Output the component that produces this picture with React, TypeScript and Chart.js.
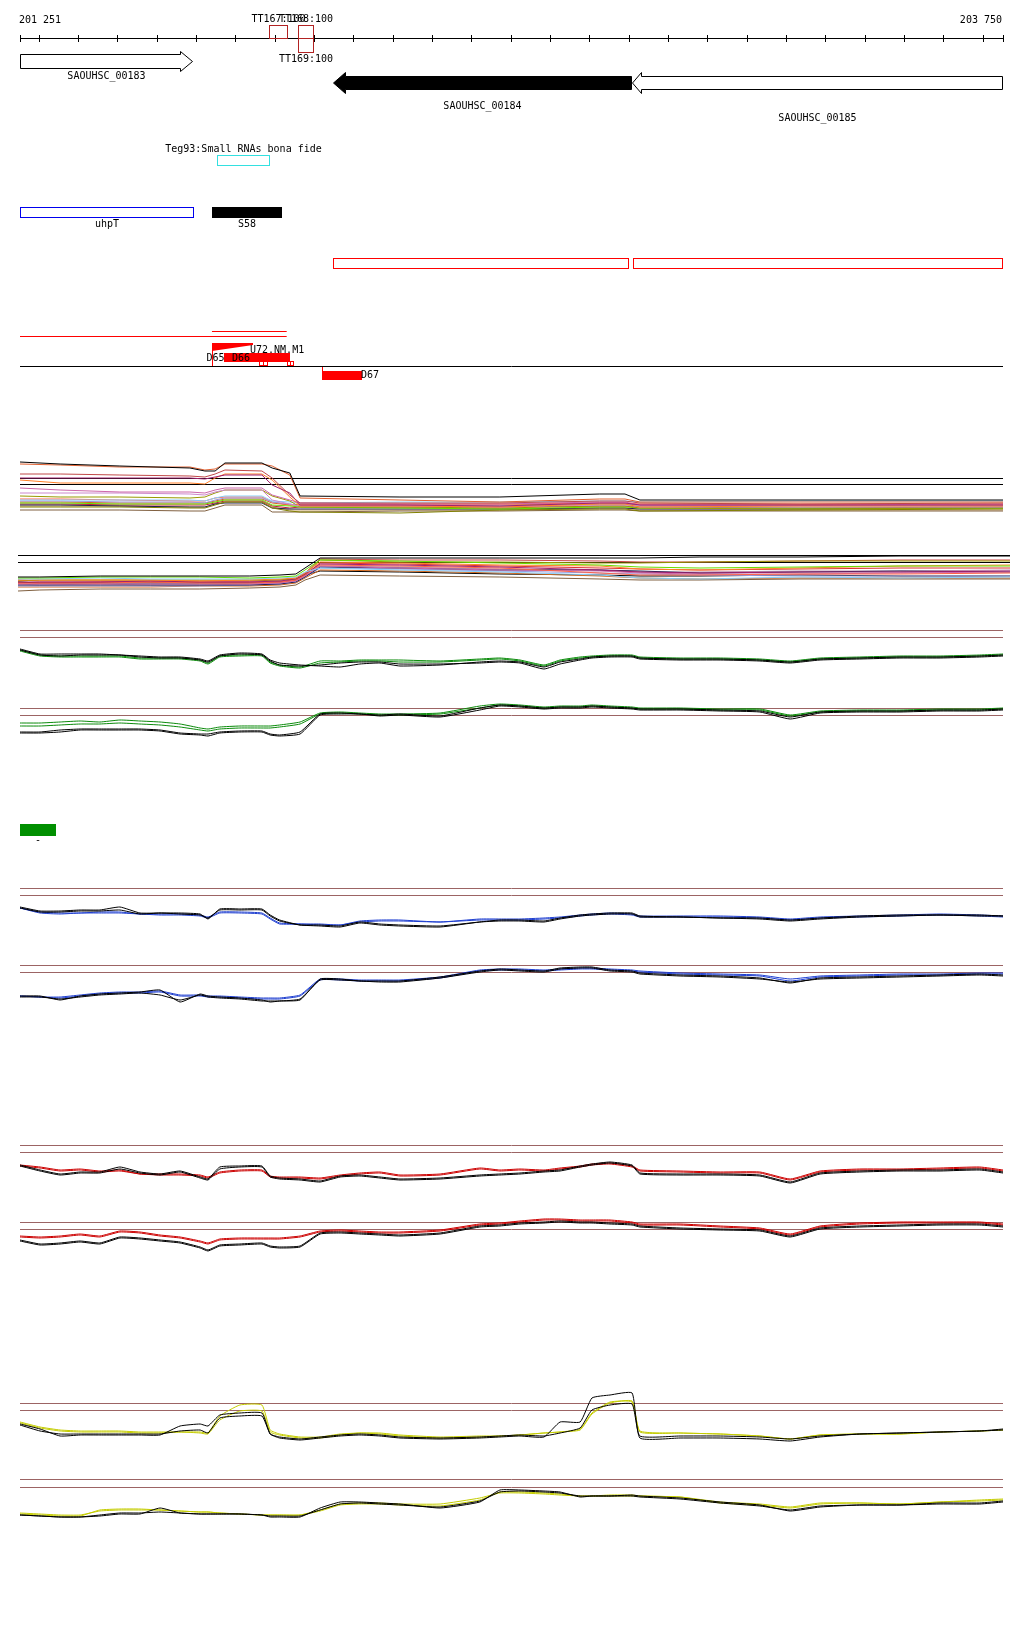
import React, { useEffect, useRef } from 'react';
import { Chart, registerables } from 'chart.js';
Chart.register(...registerables);

// ---------- genomic window ----------
const START = 201251;
const END = 203750;
const RULER_LABELS = ['201 251', '203 750'];
const RULER_TICKS = [201251, 201300, 201400, 201500, 201600, 201700, 201800, 201900, 202000, 202100, 202200, 202300, 202400,
  202500, 202600, 202700, 202800, 202900, 203000, 203100, 203200, 203300, 203400, 203500, 203600, 203700, 203750];

// ---------- annotation features ----------
const GENE_NAMES = ['SAOUHSC_00183', 'SAOUHSC_00184', 'SAOUHSC_00185'];
const GENE_START = [201251, 202047, 202807];
const GENE_END = [201690, 202807, 203750];
const GENE_STRAND = [1, -1, -1];
const GENE_FILLED = [false, true, false];

const TERM_NAMES = ['TT167:100', 'TT168:100', 'TT169:100'];
const TERM_START = [201885, 201959, 201959];
const TERM_END = [201931, 201997, 201997];

const SRNA_NAME = 'Teg93:Small RNAs bona fide';
const SRNA_START = 201751;
const SRNA_END = 201885;

const RNA_NAMES = ['uhpT', 'S58'];
const RNA_START = [201251, 201739];
const RNA_END = [201690, 201914];

const RED_BOX_START = [202047, 202809];
const RED_BOX_END = [202799, 203750];

const RED_LINE_START = [201251, 201739];
const RED_LINE_END = [201929, 201929];

const U72_NAME = 'U72.NM.M1';
const U72_START = 201739;
const U72_END = 201843;

const PEAK_NAMES = ['D65', 'D66', 'D67'];
const PEAK_START = [201739, 201770, 202019];
const PEAK_END = [201739, 201937, 202120];

const PROBE_START = [201859, 201869, 201929, 201937];
const PROBE_END = [201869, 201878, 201937, 201946];

const LEGEND_START = 201251;
const LEGEND_END = 201343;
const LEGEND_LABEL = '-';

// ---------- tiling-array signal panels (shared probe positions) ----------
const POS = [201251, 201302, 201353, 201404, 201454, 201505, 201556, 201607, 201658, 201709,
  201729, 201759, 201810, 201866, 201887, 201911, 201963, 202014, 202065, 202115,
  202166, 202217, 202319, 202420, 202471, 202522, 202583, 202624, 202675, 202705,
  202751, 202807, 202827, 202929, 203031, 203132, 203209, 203285, 203386, 203488,
  203590, 203691, 203750];

// green, strand +
const G1_BLACK_A = [51, 46, 46, 46, 46, 45, 44, 43, 43, 41, 39, 45, 47, 46, 40, 37, 35, 34, 33, 36, 37, 34, 35, 38, 39, 38, 33, 38, 41, 43, 44, 44, 42, 41, 41, 40, 38, 41, 42, 43, 43, 44, 45];
const G1_BLACK_B = [50, 45, 44, 45, 45, 45, 43, 42, 42, 40, 38, 44, 46, 45, 39, 35, 34, 35, 37, 38, 38, 36, 36, 37, 38, 37, 31, 36, 40, 42, 43, 43, 41, 40, 40, 39, 37, 40, 41, 42, 42, 43, 44];
const G1_COL_A = [50, 45, 44, 44, 44, 44, 42, 42, 42, 40, 37, 44, 45, 45, 38, 35, 33, 39, 39, 40, 40, 40, 39, 41, 42, 40, 35, 40, 43, 44, 45, 45, 43, 42, 42, 41, 39, 42, 43, 44, 44, 45, 46];
const G1_COL_B = [49, 44, 43, 43, 43, 43, 41, 41, 41, 39, 36, 43, 44, 44, 37, 34, 32, 37, 38, 39, 39, 38, 38, 40, 41, 39, 34, 39, 42, 43, 44, 44, 42, 41, 41, 40, 38, 41, 42, 43, 43, 44, 45];
// green, strand -
const G2_BLACK_A = [68, 68, 70, 71, 71, 71, 71, 70, 67, 66, 66, 68, 69, 69, 66, 65, 68, 86, 87, 86, 85, 86, 84, 92, 95, 94, 92, 93, 93, 94, 93, 92, 91, 91, 90, 89, 83, 88, 89, 89, 90, 90, 91];
const G2_BLACK_B = [67, 67, 68, 70, 70, 70, 70, 69, 66, 65, 64, 67, 68, 68, 65, 64, 66, 85, 86, 86, 84, 85, 83, 90, 94, 93, 91, 92, 92, 93, 92, 91, 90, 90, 89, 88, 81, 87, 88, 88, 89, 89, 90];
const G2_COL_A = [77, 77, 78, 79, 78, 80, 79, 78, 76, 72, 71, 73, 74, 74, 74, 75, 78, 87, 88, 87, 86, 86, 87, 94, 96, 95, 93, 94, 94, 95, 94, 93, 92, 92, 91, 91, 85, 89, 90, 90, 91, 91, 92];
const G2_COL_B = [74, 74, 75, 76, 76, 77, 76, 75, 73, 70, 69, 71, 72, 72, 72, 73, 76, 86, 87, 86, 85, 85, 86, 92, 95, 94, 92, 93, 93, 94, 93, 92, 91, 91, 90, 90, 84, 88, 89, 89, 90, 90, 91];
// blue
const B1_BLACK_A = [43, 39, 39, 40, 40, 43, 37, 37, 37, 36, 31, 41, 41, 41, 35, 30, 25, 24, 23, 27, 25, 24, 23, 28, 30, 30, 29, 32, 35, 36, 37, 37, 34, 33, 32, 32, 30, 32, 34, 35, 35, 35, 34];
const B1_BLACK_B = [42, 38, 38, 39, 39, 40, 36, 37, 36, 35, 32, 40, 40, 40, 34, 29, 25, 25, 24, 28, 26, 25, 24, 28, 29, 29, 28, 31, 34, 35, 36, 36, 33, 33, 32, 31, 29, 31, 33, 34, 35, 34, 34];
const B1_COL_A = [42, 38, 37, 37, 38, 38, 36, 36, 36, 35, 33, 38, 38, 37, 32, 27, 26, 26, 25, 29, 30, 30, 28, 31, 31, 31, 32, 33, 35, 36, 37, 36, 34, 34, 34, 33, 31, 33, 34, 35, 36, 35, 34];
const B1_COL_B = [42, 37, 36, 37, 37, 37, 36, 35, 35, 34, 32, 37, 37, 36, 31, 26, 26, 25, 25, 28, 29, 29, 28, 30, 30, 30, 31, 32, 34, 35, 36, 35, 33, 33, 33, 32, 30, 32, 33, 34, 35, 34, 33];
const B2_BLACK_A = [54, 54, 50, 54, 56, 57, 58, 60, 48, 56, 54, 53, 52, 50, 48, 49, 50, 71, 71, 69, 69, 69, 73, 79, 81, 80, 79, 82, 83, 83, 80, 79, 77, 75, 74, 72, 67, 72, 73, 74, 75, 76, 75];
const B2_BLACK_B = [53, 53, 51, 53, 55, 56, 57, 55, 50, 55, 53, 52, 51, 49, 49, 49, 51, 70, 70, 69, 68, 68, 72, 78, 80, 79, 78, 81, 82, 82, 79, 78, 76, 74, 73, 71, 68, 71, 72, 73, 74, 75, 74];
const B2_COL_A = [54, 53, 53, 55, 57, 58, 58, 59, 55, 55, 54, 54, 53, 52, 52, 52, 55, 71, 71, 70, 70, 70, 73, 80, 81, 81, 80, 81, 82, 82, 81, 80, 79, 77, 76, 75, 71, 74, 75, 76, 76, 77, 77];
const B2_COL_B = [54, 53, 52, 54, 56, 57, 57, 58, 54, 54, 53, 53, 52, 51, 51, 51, 54, 70, 70, 69, 69, 69, 72, 79, 80, 80, 79, 80, 81, 81, 80, 79, 78, 76, 75, 74, 69, 73, 74, 75, 75, 76, 76];
// red
const R1_BLACK_A = [35, 30, 26, 28, 28, 33, 28, 26, 29, 23, 21, 33, 34, 34, 24, 22, 21, 19, 24, 25, 23, 21, 22, 25, 26, 27, 29, 30, 34, 36, 38, 35, 27, 26, 26, 25, 18, 27, 29, 30, 30, 31, 28];
const R1_BLACK_B = [34, 29, 25, 27, 27, 31, 27, 25, 28, 22, 20, 31, 33, 33, 23, 21, 20, 18, 23, 24, 22, 20, 21, 24, 25, 26, 28, 29, 33, 35, 37, 34, 26, 25, 25, 24, 17, 26, 28, 29, 29, 30, 27];
const R1_COL_A = [35, 33, 30, 31, 29, 30, 26, 26, 26, 25, 23, 28, 30, 30, 24, 23, 23, 22, 25, 27, 28, 25, 26, 32, 30, 31, 30, 32, 34, 36, 37, 34, 30, 29, 28, 28, 21, 29, 31, 31, 32, 33, 30];
const R1_COL_B = [34, 32, 29, 30, 28, 29, 26, 25, 25, 24, 22, 27, 29, 29, 23, 22, 22, 21, 24, 26, 27, 24, 25, 31, 29, 30, 29, 31, 33, 35, 36, 33, 29, 28, 27, 27, 20, 28, 30, 30, 31, 32, 29];
const R2_BLACK_A = [60, 56, 57, 59, 57, 63, 62, 60, 58, 53, 50, 55, 56, 57, 54, 53, 54, 67, 68, 67, 66, 65, 67, 74, 75, 77, 78, 79, 78, 78, 77, 76, 74, 72, 71, 70, 64, 72, 74, 75, 76, 76, 74];
const R2_BLACK_B = [59, 55, 56, 58, 56, 62, 61, 59, 57, 52, 49, 54, 55, 56, 53, 52, 53, 66, 67, 66, 65, 64, 66, 73, 74, 76, 77, 78, 77, 77, 76, 75, 73, 71, 70, 69, 63, 71, 73, 74, 75, 75, 73];
const R2_COL_A = [64, 63, 64, 66, 64, 69, 68, 65, 63, 59, 57, 61, 62, 62, 62, 62, 64, 69, 70, 69, 68, 68, 70, 76, 77, 79, 81, 81, 80, 80, 80, 78, 76, 76, 74, 72, 66, 74, 77, 78, 78, 78, 76];
const R2_COL_B = [63, 62, 63, 65, 63, 68, 67, 64, 62, 58, 56, 60, 61, 61, 61, 61, 63, 68, 69, 68, 67, 67, 69, 75, 76, 78, 80, 80, 79, 79, 79, 77, 75, 75, 73, 71, 65, 73, 76, 77, 77, 77, 75];
// yellow
const Y1_BLACK_A = [26, 21, 14, 15, 15, 15, 15, 15, 24, 26, 24, 35, 37, 37, 16, 12, 10, 12, 14, 15, 14, 12, 11, 12, 13, 14, 13, 28, 28, 52, 55, 57, 12, 12, 12, 11, 9, 13, 16, 17, 18, 19, 21];
const Y1_BLACK_B = [25, 19, 16, 16, 16, 16, 16, 16, 19, 20, 17, 32, 34, 34, 16, 13, 11, 13, 15, 16, 15, 13, 12, 13, 14, 15, 14, 17, 22, 40, 45, 46, 14, 14, 14, 13, 11, 14, 16, 17, 18, 19, 20];
const Y1_COL_A = [27, 22, 19, 18, 18, 18, 17, 17, 18, 17, 16, 30, 39, 39, 18, 15, 12, 12, 15, 17, 16, 14, 12, 13, 14, 15, 17, 18, 20, 36, 47, 49, 18, 17, 16, 14, 11, 15, 16, 16, 18, 19, 20];
const Y1_COL_B = [28, 23, 20, 19, 19, 19, 18, 18, 18, 18, 17, 34, 45, 45, 20, 16, 13, 13, 16, 17, 17, 15, 13, 14, 14, 15, 17, 18, 21, 37, 48, 48, 19, 17, 16, 14, 11, 15, 16, 16, 18, 19, 20];
const Y2_BLACK_A = [35, 34, 33, 33, 34, 36, 36, 42, 37, 36, 36, 36, 36, 35, 33, 33, 33, 42, 48, 48, 47, 46, 42, 48, 60, 60, 59, 58, 53, 54, 54, 55, 54, 52, 48, 45, 39, 43, 45, 45, 47, 47, 49];
const Y2_BLACK_B = [35, 34, 33, 33, 35, 37, 37, 38, 37, 36, 36, 36, 36, 35, 34, 34, 34, 40, 46, 47, 46, 45, 43, 49, 58, 59, 58, 57, 54, 54, 54, 54, 53, 51, 47, 44, 40, 44, 45, 45, 46, 46, 48];
const Y2_COL_A = [36, 35, 34, 34, 40, 41, 41, 40, 39, 38, 38, 37, 36, 35, 35, 35, 35, 39, 45, 46, 46, 45, 44, 50, 58, 58, 57, 56, 54, 54, 55, 55, 54, 53, 47, 45, 42, 46, 47, 46, 48, 50, 51];
const Y2_COL_B = [37, 36, 35, 35, 39, 40, 40, 40, 39, 38, 38, 37, 36, 35, 35, 35, 35, 40, 46, 47, 47, 46, 46, 52, 57, 57, 56, 55, 54, 54, 54, 54, 54, 53, 48, 46, 43, 47, 47, 46, 48, 49, 50];

// threshold levels for each panel pair [upper, lower]
const G1_THRESH = [69.5, 62.5];
const G2_THRESH = [91.5, 84.5];
const B1_THRESH = [61.5, 54.5];
const B2_THRESH = [84.5, 77.5];
const R1_THRESH = [54.5, 47.5];
const R2_THRESH = [77.5, 70.5];
const Y1_THRESH = [46.5, 39.5];
const Y2_THRESH = [70.5, 62.5];

// ---------- multi-condition overlay (strand +) ----------
const TOP_POS = [201251, 201353, 201505, 201683, 201721, 201747, 201772, 201866, 201892, 201937, 201963, 202217, 202471, 202725, 202789, 202827, 203234, 203750];
const TOP_THRESH = [61.5, 55.5];
const TOP_SERIES = [
  [78, 76, 74, 72, 69, 69, 77, 77, 72, 67, 44, 43, 43, 46, 46, 40, 40, 40],
  [76, 75, 73, 73, 70, 71, 76, 76, 74, 65, 42, 40, 38, 41, 41, 38, 38, 38],
  [66, 66, 65, 64, 63, 66, 70, 69, 62, 45, 37, 37, 37, 39, 39, 37, 36, 37],
  [62, 62, 62, 62, 61, 63, 65, 65, 55, 47, 35, 35, 34, 37, 37, 35, 35, 35],
  [60, 57, 57, 57, 56, 62, 66, 66, 60, 43, 34, 34, 33, 36, 36, 33, 34, 34],
  [52, 50, 48, 48, 47, 50, 52, 52, 45, 40, 37, 36, 36, 38, 38, 35, 35, 36],
  [47, 47, 47, 46, 45, 48, 50, 50, 40, 36, 34, 34, 33, 35, 35, 33, 33, 33],
  [44, 43, 43, 42, 43, 47, 50, 50, 44, 39, 33, 33, 32, 34, 34, 32, 31, 32],
  [40, 40, 40, 40, 39, 42, 44, 44, 39, 38, 37, 38, 38, 39, 39, 38, 39, 39],
  [37, 37, 36, 36, 36, 38, 40, 40, 35, 34, 33, 32, 31, 33, 33, 32, 32, 32],
  [39, 39, 38, 38, 37, 40, 42, 42, 38, 36, 34, 34, 34, 36, 36, 34, 34, 34],
  [33, 33, 33, 32, 32, 35, 38, 38, 32, 29, 28, 27, 30, 31, 31, 29, 30, 31],
  [30, 30, 30, 29, 29, 32, 35, 35, 28, 28, 28, 29, 29, 30, 30, 29, 29, 29],
  [35, 35, 34, 33, 33, 36, 37, 37, 32, 31, 31, 31, 31, 32, 32, 31, 31, 32],
  [41, 41, 40, 39, 39, 42, 43, 43, 38, 35, 36, 36, 36, 37, 37, 36, 36, 36],
  [38, 38, 37, 37, 37, 39, 41, 41, 37, 35, 35, 35, 35, 36, 36, 35, 35, 35],
  [36, 36, 35, 35, 35, 37, 39, 39, 34, 32, 33, 33, 33, 34, 34, 33, 32, 33],
  [34, 34, 34, 33, 33, 36, 38, 38, 33, 30, 30, 30, 30, 32, 32, 30, 30, 30],
];
const TOP_COLORS = ['#000000', '#e06030', '#c04848', '#a0206e', '#ff7f27', '#cc66aa', '#cc88cc', '#999900', '#87cefa',
  '#66dd00', '#9999dd', '#808000', '#806040', '#202050', '#ff6347', '#d2691e', '#c0203a', '#c8a060'];

// ---------- multi-condition overlay (strand -) ----------
const BOT_POS = [201251, 201306, 201458, 201584, 201709, 201835, 201911, 201951, 201974, 202012, 202213, 202465, 202717, 202818, 202969, 203221, 203473, 203750];
const BOT_THRESH = [44.5, 37.5];
const BOT_SERIES = [
  [23, 23, 24, 24, 24, 24, 25, 26, 32, 42, 42, 42, 42, 42, 43, 43, 44, 44],
  [22, 22, 23, 23, 23, 22, 23, 24, 30, 40, 39, 37, 35, 33, 32, 33, 34, 34],
  [21, 21, 22, 21, 21, 21, 22, 23, 28, 32, 30, 28, 25, 22, 21, 23, 22, 23],
  [20, 20, 20, 20, 19, 20, 21, 22, 27, 38, 37, 35, 34, 31, 30, 32, 34, 35],
  [18, 18, 18, 19, 18, 18, 19, 21, 26, 36, 35, 33, 30, 28, 27, 28, 28, 29],
  [17, 17, 17, 18, 17, 17, 18, 20, 25, 35, 34, 32, 27, 25, 25, 26, 26, 27],
  [16, 16, 16, 16, 16, 16, 17, 19, 24, 34, 32, 30, 29, 27, 26, 26, 27, 28],
  [19, 20, 20, 20, 20, 20, 20, 21, 26, 40, 38, 38, 37, 37, 38, 39, 39, 39],
  [15, 15, 15, 15, 15, 15, 16, 18, 23, 33, 32, 30, 30, 29, 27, 28, 29, 28],
  [14, 14, 14, 14, 14, 15, 16, 18, 23, 32, 31, 29, 27, 26, 25, 24, 24, 24],
  [9, 10, 11, 11, 11, 12, 13, 15, 20, 25, 24, 23, 21, 20, 20, 21, 21, 21],
  [13, 13, 13, 13, 14, 14, 15, 17, 22, 30, 29, 27, 24, 22, 21, 22, 22, 22],
  [17, 17, 18, 18, 18, 18, 18, 20, 25, 37, 36, 34, 32, 31, 30, 31, 32, 32],
  [16, 15, 16, 15, 15, 16, 17, 19, 24, 34, 33, 31, 30, 28, 28, 29, 29, 30],
  [20, 19, 19, 19, 19, 19, 20, 22, 27, 41, 40, 40, 39, 38, 38, 39, 40, 40],
  [18, 17, 17, 17, 17, 17, 18, 20, 25, 29, 28, 26, 25, 24, 24, 25, 24, 24],
];
const BOT_COLORS = ['#000000', '#66dd00', '#87cefa', '#ff7f27', '#a0206e', '#ff6347', '#cc66aa', '#999900', '#202050',
  '#9999dd', '#806040', '#d2691e', '#dd3333', '#bb88aa', '#cc4444', '#000000'];

// ---------- styling / layout ----------
const FONT = '10px "DejaVu Sans Mono", monospace';
const THRESH_COLOR = '#9c6464';
const W = 1024;

type Series = { pos: number[]; vals: number[]; color: string };

function lineConfig(h: number, padL: number, padR: number, series: Series[], thresholds: number[], threshColor: string, tension = 0.15) {
  const datasets: any[] = series.map((s) => ({
    data: s.pos.map((x, i) => ({ x, y: s.vals[i] })),
    borderColor: s.color,
    borderWidth: 1,
    pointRadius: 0,
    tension,
    fill: false,
  }));
  thresholds.forEach((t) => {
    datasets.push({
      data: [{ x: START, y: t }, { x: END, y: t }],
      borderColor: threshColor,
      borderWidth: 1,
      pointRadius: 0,
      fill: false,
    });
  });
  return {
    type: 'line',
    data: { datasets },
    options: {
      animation: false,
      responsive: false,
      maintainAspectRatio: false,
      devicePixelRatio: 1,
      events: [],
      layout: { padding: { left: padL, right: padR, top: 0, bottom: 0 } },
      plugins: { legend: { display: false }, tooltip: { enabled: false }, title: { display: false } },
      scales: {
        x: { type: 'linear', min: START, max: END, display: false },
        y: { type: 'linear', min: 0, max: h, display: false },
      },
    },
  };
}

const s5 = (v: number) => Math.round(v) + 0.5;

const featurePlugin = {
  id: 'features',
  afterDraw(chart: any) {
    const ctx: CanvasRenderingContext2D = chart.ctx;
    const X = (v: number) => chart.scales.x.getPixelForValue(v);
    ctx.save();
    ctx.font = FONT;
    ctx.textBaseline = 'middle';
    ctx.lineWidth = 1;

    // ruler
    ctx.strokeStyle = '#000';
    ctx.beginPath();
    ctx.moveTo(X(START), 38.5);
    ctx.lineTo(X(END), 38.5);
    RULER_TICKS.forEach((t) => {
      const x = s5(X(t) - 0.5);
      ctx.moveTo(x, 35);
      ctx.lineTo(x, 42);
    });
    ctx.stroke();
    ctx.fillStyle = '#000';
    ctx.textAlign = 'left';
    ctx.fillText(RULER_LABELS[0], X(START) - 1, 20);
    ctx.textAlign = 'right';
    ctx.fillText(RULER_LABELS[1], X(END) - 1, 20);

    // terminators
    const termLayout = [
      { top: 25.5, bottom: 38.5, labelY: 19 },
      { top: 25.5, bottom: 38.5, labelY: 19 },
      { top: 38.5, bottom: 52.5, labelY: 59 },
    ];
    TERM_NAMES.forEach((n, i) => {
      const L = termLayout[i];
      const x0 = s5(X(TERM_START[i])), x1 = s5(X(TERM_END[i]));
      ctx.strokeStyle = '#b22222';
      ctx.strokeRect(x0, L.top, x1 - x0, L.bottom - L.top);
      ctx.fillStyle = '#000';
      ctx.textAlign = 'center';
      ctx.fillText(n, (x0 + x1) / 2, L.labelY);
    });

    // genes
    const geneLayout = [
      { top: 54.5, bottom: 68.5, ext: 3, head: 12, labelY: 76 },
      { top: 76.5, bottom: 89.5, ext: 4, head: 12, labelY: 106 },
      { top: 76.5, bottom: 89.5, ext: 4, head: 9, labelY: 118 },
    ];
    GENE_NAMES.forEach((name, i) => {
      const L = geneLayout[i];
      const x0 = s5(X(GENE_START[i])), x1 = s5(X(GENE_END[i]) - 1);
      const mid = (L.top + L.bottom) / 2;
      ctx.beginPath();
      if (GENE_STRAND[i] > 0) {
        const xh = x1 - L.head;
        ctx.moveTo(x0, L.top); ctx.lineTo(xh, L.top); ctx.lineTo(xh, L.top - L.ext); ctx.lineTo(x1, mid);
        ctx.lineTo(xh, L.bottom + L.ext); ctx.lineTo(xh, L.bottom); ctx.lineTo(x0, L.bottom); ctx.closePath();
      } else {
        const xh = x0 + L.head;
        ctx.moveTo(x1, L.top); ctx.lineTo(xh, L.top); ctx.lineTo(xh, L.top - L.ext); ctx.lineTo(x0, mid);
        ctx.lineTo(xh, L.bottom + L.ext); ctx.lineTo(xh, L.bottom); ctx.lineTo(x1, L.bottom); ctx.closePath();
      }
      ctx.fillStyle = GENE_FILLED[i] ? '#000' : '#fff';
      ctx.fill();
      ctx.strokeStyle = '#000';
      ctx.stroke();
      ctx.fillStyle = '#000';
      ctx.textAlign = 'center';
      ctx.fillText(name, (x0 + x1) / 2, L.labelY);
    });

    // small RNA track
    {
      const x0 = s5(X(SRNA_START)), x1 = s5(X(SRNA_END));
      ctx.strokeStyle = '#33e0e0';
      ctx.strokeRect(x0, 155.5, x1 - x0, 10);
      ctx.fillStyle = '#000';
      ctx.textAlign = 'center';
      ctx.fillText(SRNA_NAME, (x0 + x1) / 2, 149);
    }

    // uhpT / S58
    RNA_NAMES.forEach((n, i) => {
      const x0 = s5(X(RNA_START[i])), x1 = s5(X(RNA_END[i]));
      if (i === 0) {
        ctx.strokeStyle = '#0000ee';
        ctx.strokeRect(x0, 207.5, x1 - x0, 10);
      } else {
        ctx.fillStyle = '#000';
        ctx.fillRect(x0 - 0.5, 207, x1 - x0 + 1, 11);
      }
      ctx.fillStyle = '#000';
      ctx.textAlign = 'center';
      ctx.fillText(n, (x0 + x1) / 2, 224.5);
    });

    // red outlined boxes
    ctx.strokeStyle = '#ff0000';
    RED_BOX_START.forEach((st, i) => {
      const x0 = s5(X(st)), x1 = s5(X(RED_BOX_END[i]) - 1);
      ctx.strokeRect(x0, 258.5, x1 - x0, 10);
    });

    // red lines
    const redLineY = [336.5, 331.5];
    ctx.beginPath();
    RED_LINE_START.forEach((st, i) => {
      ctx.moveTo(X(st), redLineY[i]);
      ctx.lineTo(X(RED_LINE_END[i]), redLineY[i]);
    });
    ctx.stroke();

    // U72 triangle
    {
      const x0 = Math.round(X(U72_START)), x1 = Math.round(X(U72_END));
      ctx.fillStyle = '#ff0000';
      ctx.beginPath();
      ctx.moveTo(x0, 343); ctx.lineTo(x1, 343); ctx.lineTo(x1, 345); ctx.lineTo(x0, 351); ctx.closePath();
      ctx.fill();
      ctx.fillStyle = '#000';
      ctx.textAlign = 'left';
      ctx.fillText(U72_NAME, x1 - 3, 350);
    }

    // peaks D65, D66, D67
    {
      const d65 = s5(X(PEAK_START[0]));
      ctx.strokeStyle = '#ff0000';
      ctx.beginPath();
      ctx.moveTo(d65, 343); ctx.lineTo(d65, 366);
      const d67 = s5(X(PEAK_START[2]));
      ctx.moveTo(d67, 366); ctx.lineTo(d67, 371);
      ctx.stroke();
      ctx.fillStyle = '#ff0000';
      const a0 = Math.round(X(PEAK_START[1])), a1 = Math.round(X(PEAK_END[1]));
      ctx.fillRect(a0, 353, a1 - a0, 9);
      const c0 = Math.round(X(PEAK_START[2])), c1 = Math.round(X(PEAK_END[2]));
      ctx.fillRect(c0, 371, c1 - c0, 9);
      ctx.fillStyle = '#000';
      ctx.textAlign = 'left';
      ctx.fillText(PEAK_NAMES[0], d65 - 6, 358);
      ctx.fillText(PEAK_NAMES[1], a0 + 8, 358);
      ctx.fillText(PEAK_NAMES[2], c1 - 1, 375);
    }

    // probes
    ctx.strokeStyle = '#ff0000';
    PROBE_START.forEach((st, i) => {
      const x0 = s5(X(st)), x1 = s5(X(PROBE_END[i]));
      ctx.strokeRect(x0, 361.5, x1 - x0, 4);
    });

    // baseline
    ctx.strokeStyle = '#000';
    ctx.beginPath();
    ctx.moveTo(X(START), 366.5);
    ctx.lineTo(X(END), 366.5);
    ctx.stroke();

    // green legend block
    {
      const x0 = Math.round(X(LEGEND_START)), x1 = Math.round(X(LEGEND_END));
      ctx.fillStyle = '#008f00';
      ctx.fillRect(x0, 824, x1 - x0, 12);
      ctx.fillStyle = '#000';
      ctx.textAlign = 'center';
      ctx.fillText(LEGEND_LABEL, (x0 + x1) / 2, 840);
    }
    ctx.restore();
  },
};

function featureConfig(h: number) {
  return {
    type: 'line',
    data: { datasets: [] },
    options: {
      animation: false,
      responsive: false,
      maintainAspectRatio: false,
      devicePixelRatio: 1,
      events: [],
      layout: { padding: { left: 20, right: 21, top: 0, bottom: 0 } },
      plugins: { legend: { display: false }, tooltip: { enabled: false } },
      scales: {
        x: { type: 'linear', min: START, max: END, display: false },
        y: { type: 'linear', min: 0, max: h, display: false },
      },
    },
    plugins: [featurePlugin],
  };
}

function ChartCanvas({ top, height, make }: { top: number; height: number; make: () => any }) {
  const ref = useRef<HTMLCanvasElement>(null);
  useEffect(() => {
    const chart = new Chart(ref.current as HTMLCanvasElement, make());
    return () => chart.destroy();
  }, []);
  return (
    <canvas
      ref={ref}
      width={W}
      height={height}
      style={{ position: 'absolute', left: 0, top, width: W, height, display: 'block' }}
    />
  );
}

const pair = (colA: number[], colB: number[], blA: number[], blB: number[], color: string): Series[] => [
  { pos: POS, vals: blA, color: '#000000' },
  { pos: POS, vals: blB, color: '#000000' },
  { pos: POS, vals: colA, color },
  { pos: POS, vals: colB, color },
];

export default function App() {
  const GREEN = '#0a8a0a';
  const BLUE = '#1f3fd0';
  const RED = '#cc0000';
  const YELLOW = '#c4cc00';
  return (
    <div style={{ position: 'absolute', left: 0, top: 0, width: W, height: 1640, background: '#fff', overflow: 'hidden' }}>
      <ChartCanvas top={0} height={860} make={() => featureConfig(860)} />
      <ChartCanvas top={400} height={140} make={() =>
        lineConfig(140, 20, 21, TOP_SERIES.map((v, i) => ({ pos: TOP_POS, vals: v, color: TOP_COLORS[i] })), TOP_THRESH, '#000000', 0)} />
      <ChartCanvas top={540} height={60} make={() =>
        lineConfig(60, 18, 14, BOT_SERIES.map((v, i) => ({ pos: BOT_POS, vals: v, color: BOT_COLORS[i] })), BOT_THRESH, '#000000', 0)} />
      <ChartCanvas top={600} height={100} make={() => lineConfig(100, 20, 21, pair(G1_COL_A, G1_COL_B, G1_BLACK_A, G1_BLACK_B, GREEN), G1_THRESH, THRESH_COLOR)} />
      <ChartCanvas top={700} height={100} make={() => lineConfig(100, 20, 21, pair(G2_COL_A, G2_COL_B, G2_BLACK_A, G2_BLACK_B, GREEN), G2_THRESH, THRESH_COLOR)} />
      <ChartCanvas top={850} height={100} make={() => lineConfig(100, 20, 21, pair(B1_COL_A, B1_COL_B, B1_BLACK_A, B1_BLACK_B, BLUE), B1_THRESH, THRESH_COLOR)} />
      <ChartCanvas top={950} height={100} make={() => lineConfig(100, 20, 21, pair(B2_COL_A, B2_COL_B, B2_BLACK_A, B2_BLACK_B, BLUE), B2_THRESH, THRESH_COLOR)} />
      <ChartCanvas top={1100} height={100} make={() => lineConfig(100, 20, 21, pair(R1_COL_A, R1_COL_B, R1_BLACK_A, R1_BLACK_B, RED), R1_THRESH, THRESH_COLOR)} />
      <ChartCanvas top={1200} height={100} make={() => lineConfig(100, 20, 21, pair(R2_COL_A, R2_COL_B, R2_BLACK_A, R2_BLACK_B, RED), R2_THRESH, THRESH_COLOR)} />
      <ChartCanvas top={1350} height={100} make={() => lineConfig(100, 20, 21, pair(Y1_COL_A, Y1_COL_B, Y1_BLACK_A, Y1_BLACK_B, YELLOW), Y1_THRESH, THRESH_COLOR)} />
      <ChartCanvas top={1450} height={100} make={() => lineConfig(100, 20, 21, pair(Y2_COL_A, Y2_COL_B, Y2_BLACK_A, Y2_BLACK_B, YELLOW), Y2_THRESH, THRESH_COLOR)} />
    </div>
  );
}
